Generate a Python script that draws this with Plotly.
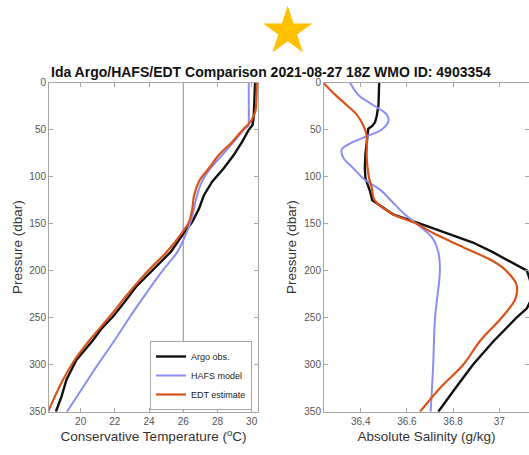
import plotly.graph_objects as go

# Pressure levels (dbar) and conservative temperature (deg C) for each source
p_argo_t = [0, 20, 36, 45, 51, 63, 77, 91, 105, 120, 134, 148, 162, 180, 199, 217, 235, 249, 262, 274, 295, 316, 334, 350]
t_argo = [30.2, 30.17, 30.12, 30.05, 29.8, 29.44, 28.95, 28.37, 27.7, 27.2, 26.92, 26.53, 25.95, 25.27, 24.2, 23.24, 22.5, 21.88, 21.2, 20.72, 19.75, 19.17, 18.88, 18.55]

p_hafs_t = [0, 20, 40, 46, 49, 63, 77, 91, 105, 120, 134, 148, 162, 180, 200, 225, 250, 275, 300, 325, 350]
t_hafs = [29.83, 29.83, 29.83, 29.8, 29.6, 28.95, 28.27, 27.6, 27.1, 26.8, 26.63, 26.43, 26.14, 25.66, 24.79, 23.8, 22.85, 21.95, 21.0, 20.1, 19.2]

p_edt_t = [0, 20, 30, 36, 42, 49, 63, 77, 91, 105, 120, 134, 148, 159, 173, 183, 199, 225, 249, 274, 295, 316, 334, 350]
t_edt = [30.3, 30.27, 30.22, 30.1, 29.92, 29.53, 28.86, 28.08, 27.5, 26.92, 26.63, 26.53, 26.34, 25.95, 25.37, 24.88, 24.0, 22.75, 21.69, 20.52, 19.65, 18.97, 18.49, 18.1]

# Pressure levels (dbar) and absolute salinity (g/kg) for each source
p_argo_s = [0, 15, 24, 36, 42, 46, 49, 55, 63, 77, 91, 101, 105, 115, 125, 140, 150, 160, 170, 180, 200, 215, 230, 240, 250, 275, 300, 325, 350]
s_argo = [36.48, 36.48, 36.477, 36.469, 36.462, 36.45, 36.433, 36.43, 36.426, 36.42, 36.418, 36.42, 36.425, 36.44, 36.45, 36.54, 36.657, 36.77, 36.886, 36.97, 37.12, 37.14, 37.14, 37.12, 37.075, 36.975, 36.886, 36.81, 36.736]

p_hafs_s = [0, 13, 24, 34, 41, 50, 57, 63, 71, 80, 91, 102, 114, 125, 140, 150, 165, 180, 200, 250, 300, 350]
s_hafs = [36.354, 36.39, 36.455, 36.513, 36.52, 36.49, 36.426, 36.368, 36.318, 36.325, 36.368, 36.411, 36.485, 36.53, 36.59, 36.642, 36.71, 36.736, 36.743, 36.722, 36.714, 36.703]

p_edt_s = [0, 13, 24, 34, 45, 56, 80, 100, 112, 125, 140, 150, 160, 175, 190, 200, 215, 230, 250, 275, 300, 325, 350]
s_edt = [36.238, 36.29, 36.34, 36.383, 36.41, 36.426, 36.426, 36.435, 36.448, 36.46, 36.54, 36.642, 36.714, 36.844, 36.974, 37.03, 37.075, 37.07, 37.01, 36.916, 36.844, 36.743, 36.657]

ref_temp = 26  # reference isotherm
temp_ticks = [20, 22, 24, 26, 28, 30]
sal_ticks = [36.4, 36.6, 36.8, 37.0]
sal_labels = ["36.4", "36.6", "36.8", "37"]
p_ticks = [0, 50, 100, 150, 200, 250, 300, 350]

C_ARGO = "#111111"
C_HAFS = "#8c8cf2"
C_EDT = "#d95319"

fig = go.Figure()

fig.add_trace(go.Scatter(x=t_argo, y=p_argo_t, mode="lines", name="Argo obs.",
                         line=dict(color=C_ARGO, width=2.4), xaxis="x", yaxis="y"))
fig.add_trace(go.Scatter(x=t_hafs, y=p_hafs_t, mode="lines", name="HAFS model",
                         line=dict(color=C_HAFS, width=2, shape="spline"), xaxis="x", yaxis="y"))
fig.add_trace(go.Scatter(x=t_edt, y=p_edt_t, mode="lines", name="EDT estimate",
                         line=dict(color=C_EDT, width=2.2, shape="spline"), xaxis="x", yaxis="y"))

fig.add_trace(go.Scatter(x=s_argo, y=p_argo_s, mode="lines", showlegend=False,
                         line=dict(color=C_ARGO, width=2.4), xaxis="x2", yaxis="y2"))
fig.add_trace(go.Scatter(x=s_hafs, y=p_hafs_s, mode="lines", showlegend=False,
                         line=dict(color=C_HAFS, width=2, shape="spline"), xaxis="x2", yaxis="y2"))
fig.add_trace(go.Scatter(x=s_edt, y=p_edt_s, mode="lines", showlegend=False,
                         line=dict(color=C_EDT, width=2.2, shape="spline"), xaxis="x2", yaxis="y2"))

fig.add_shape(type="line", x0=ref_temp, x1=ref_temp, y0=0, y1=350, xref="x", yref="y",
              line=dict(color="#999999", width=1.2), layer="below")

axis_common = dict(showline=True, linecolor="#a6a6a6", linewidth=1, mirror="ticks",
                   ticks="inside", ticklen=4, tickcolor="#a6a6a6", showgrid=False,
                   zeroline=False, automargin=False,
                   tickfont=dict(size=10, color="#555555"))
title_font = dict(size=13.5, color="#333333")

fig.update_layout(
    width=529, height=455,
    margin=dict(l=0, r=0, t=0, b=0, autoexpand=False),
    paper_bgcolor="white", plot_bgcolor="white",
    font=dict(family="Liberation Sans, Arial, sans-serif"),
    xaxis=dict(domain=[49 / 529, 258 / 529], range=[18.15, 30.37], tickvals=temp_ticks,
               title=dict(text="Conservative Temperature (<sup>o</sup>C)", font=title_font,
                          standoff=5),
               anchor="y", **axis_common),
    yaxis=dict(domain=[1 - 411.7 / 455, 1 - 82.7 / 455], range=[350, 0], tickvals=p_ticks,
               title=dict(text="Pressure (dbar)", font=title_font, standoff=3),
               anchor="x", **axis_common),
    xaxis2=dict(domain=[324 / 529, 1.0], range=[36.241, 37.129], tickvals=sal_ticks,
                ticktext=sal_labels,
                title=dict(text="Absolute Salinity (g/kg)", font=title_font, standoff=5),
                anchor="y2", **axis_common),
    yaxis2=dict(domain=[1 - 411.7 / 455, 1 - 82.7 / 455], range=[350, 0], tickvals=p_ticks,
                title=dict(text="Pressure (dbar)", font=title_font, standoff=4),
                anchor="x2", **axis_common),
    legend=dict(x=252 / 529, y=1 - 410 / 455, xanchor="right", yanchor="bottom",
                bgcolor="white", bordercolor="#a6a6a6", borderwidth=1,
                font=dict(size=9, color="#222222"), tracegroupgap=0),
    showlegend=True,
)

fig.add_annotation(text="<b>Ida Argo/HAFS/EDT Comparison 2021-08-27 18Z WMO ID: 4903354</b>",
                   x=271 / 529, y=1 - 72 / 455, xref="paper", yref="paper",
                   xanchor="center", yanchor="middle",
                   showarrow=False, font=dict(size=14, color="#111111"))
fig.add_annotation(text="★", x=287 / 529, y=1 - 30 / 455, xref="paper", yref="paper",
                   xanchor="center", yanchor="middle",
                   showarrow=False, font=dict(size=64, color="#ffc000",
                                             family="DejaVu Sans"))

fig.write_html("out.html")
